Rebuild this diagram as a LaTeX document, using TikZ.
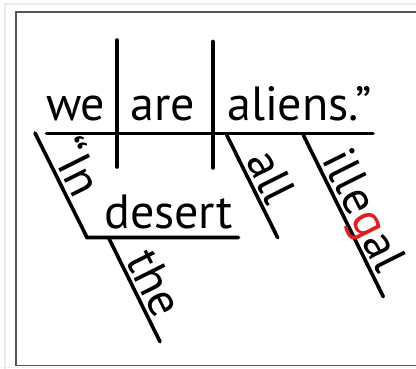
\documentclass[tikz,border=0pt]{standalone}
\usepackage{fontspec}
\setmainfont{PT Sans}
\usetikzlibrary{calc}
\definecolor{glred}{HTML}{E02020}
\definecolor{framegray}{HTML}{555555}
\definecolor{outergray}{HTML}{EBEBEB}
\tikzset{
  diag/.style={line width=3.6pt, line cap=round, line join=miter},
  word/.style={inner sep=0pt, anchor=base west, font=\fontsize{48}{52}\selectfont},
  slantword/.style={word, rotate=-63.43},
}
\begin{document}
\begin{tikzpicture}[x=1pt,y=-1pt]
\useasboundingbox (0,0) rectangle (416,368);
\fill[white] (0,0) rectangle (416,368);
\draw[outergray, line width=1.5pt] (5,370) -- (5,4) -- (420,4);
\fill[outergray!60] (0,366.5) rectangle (416,368);
\draw[framegray, line width=1.4pt] (420,365.5) -- (16,365.5) -- (16,12) -- (420,12);
% line endpoints
\coordinate (m1) at (46.5,133.5);
\coordinate (m2) at (373,133.5);
\coordinate (v1a) at (117,40);
\coordinate (v1b) at (117,167);
\coordinate (v2a) at (213,41.5);
\coordinate (v2b) at (213,168);
\coordinate (in1) at (35,133);
\coordinate (in2) at (87,237.5);
\coordinate (d2) at (238.5,237.5);
\coordinate (th1) at (108.5,237.5);
\coordinate (th2) at (160,341.7);
\coordinate (al1) at (226.7,135);
\coordinate (al2) at (277.7,237.7);
\coordinate (il1) at (303.3,135);
\coordinate (il2) at (383.3,296.7);
% lines
\draw[diag] (m1) -- (m2);
\draw[diag] (v1a) -- (v1b);
\draw[diag] (v2a) -- (v2b);
\draw[diag] (in1) -- (in2) -- (d2);
\draw[diag] (th1) -- (th2);
\draw[diag] (al1) -- (al2);
\draw[diag] (il1) -- (il2);
% horizontal words
\node[word] (we) at (46,120) {we};
\node[word] (are) at (130,120) {are};
\node[word] (aliens) at (227,120) {aliens.”};
\node[word] (desert) at (104,228.5) {desert};
% slanted words
\node[slantword] (in) at ($(in1)!21pt!(in2)+(4.5,-2.2)$) {“In};
\node[slantword] (the) at ($(th1)!28pt!(th2)+(4.5,-2.2)$) {the};
\node[slantword] (all) at ($(al1)!31pt!(al2)+(4.5,-2.2)$) {all};
\node[slantword] (illegal) at ($(il1)!30pt!(il2)+(4.5,-2.2)$) {ille{\color{glred}g}al};
\end{tikzpicture}
\end{document}
